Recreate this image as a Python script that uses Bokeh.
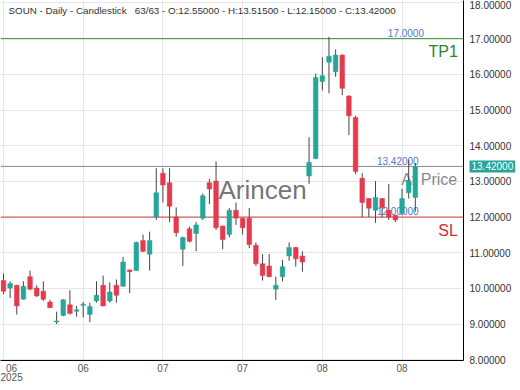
from bokeh.plotting import figure
from bokeh.models import FixedTicker, Span, Label, NumeralTickFormatter, ColumnDataSource
from bokeh.core.properties import value
from bokeh.embed import file_html
from bokeh.resources import INLINE

# ---- data ----
opens = [10.22, 10.01, 10.09, 9.70, 10.33, 10.01, 9.92, 9.62, 9.06, 9.24,
         9.54, 9.36, 9.52, 9.27, 9.65, 10.09, 9.65, 10.09, 10.06, 10.52,
         10.50, 11.34, 10.96, 12.00, 13.23, 12.96, 12.00, 11.10, 11.67, 11.54,
         11.97, 12.96, 13.01, 11.75, 11.51, 12.19, 11.97, 11.97, 11.21, 10.69,
         10.63, 9.98, 10.33, 10.91, 11.15, 10.91, 13.15, 13.64, 15.80, 16.34,
         16.07, 16.54, 15.39, 14.79, 13.09, 12.52, 12.19, 12.52, 12.19, 12.05,
         12.11, 12.68, 12.55]
highs = [10.42, 10.20, 10.10, 10.20, 10.50, 10.09, 10.20, 9.68, 9.35, 9.70,
         9.95, 9.51, 9.62, 9.60, 10.20, 10.36, 10.17, 10.25, 10.88, 10.53,
         11.31, 11.51, 11.59, 13.37, 13.37, 13.37, 12.27, 11.45, 11.73, 11.86,
         12.66, 13.07, 13.56, 11.76, 12.25, 12.41, 11.98, 12.25, 11.29, 10.96,
         10.96, 10.33, 10.80, 11.29, 11.16, 11.04, 14.24, 16.02, 16.48, 17.05,
         16.70, 16.56, 15.42, 14.84, 13.23, 12.53, 13.01, 12.53, 12.93, 12.06,
         12.79, 13.61, 13.515]
lows = [9.84, 9.73, 9.27, 9.69, 9.95, 9.76, 9.65, 9.45, 9.00, 9.22,
        9.27, 9.21, 9.19, 9.05, 9.60, 9.50, 9.60, 9.60, 10.05, 9.87,
        10.49, 11.02, 10.50, 11.92, 12.41, 11.86, 11.45, 10.63, 11.29, 11.04,
        11.92, 12.36, 11.64, 11.10, 11.43, 11.78, 11.51, 11.13, 10.63, 10.22,
        10.31, 9.68, 10.20, 10.77, 10.61, 10.47, 12.93, 13.62, 15.55, 15.47,
        15.93, 15.42, 14.30, 13.20, 12.00, 12.00, 11.84, 12.00, 11.92, 11.86,
        12.05, 12.52, 12.15]
closes = [9.92, 10.14, 9.51, 10.06, 9.98, 9.79, 9.70, 9.46, 9.09, 9.68,
          9.30, 9.40, 9.56, 9.49, 9.81, 9.51, 9.90, 9.81, 10.74, 10.47,
          11.29, 11.04, 11.34, 12.68, 12.90, 12.30, 11.56, 11.43, 11.32, 11.78,
          12.60, 12.79, 11.70, 11.37, 12.19, 11.97, 11.70, 11.23, 10.69, 10.36,
          10.33, 10.09, 10.61, 11.15, 10.83, 10.74, 13.53, 15.91, 15.96, 16.51,
          16.54, 15.61, 14.84, 13.28, 12.41, 12.25, 12.55, 12.27, 12.00, 11.92,
          12.52, 13.01, 13.42]

tick_positions = [0, 12, 24, 36, 48, 60]
tick_labels = ["06\n2025", "06", "07", "07", "08", "08"]
price_ticks = [8, 9, 10, 11, 12, 13, 14, 15, 16, 17, 18]

title_text = "SOUN - Daily - Candlestick \u00a0 63/63 - O:12.55000 - H:13.51500 - L:12.15000 - C:13.42000"
tp1_price = 17.0
at_price = 13.42
sl_price = 12.0
tp1_text = "17.0000"
at_text = "13.42000"
sl_text = "12.00000"

UP = "#26a69a"
DOWN = "#e5394d"
FONT = "Liberation Sans"

idx = list(range(len(opens)))
colors = [UP if c >= o else DOWN for o, c in zip(opens, closes)]
tops = [max(o, c) for o, c in zip(opens, closes)]
bottoms = [min(o, c) for o, c in zip(opens, closes)]
bottoms = [b if t - b > 0.03 else t - 0.03 for t, b in zip(tops, bottoms)]

src = ColumnDataSource(dict(x=idx, o=opens, h=highs, l=lows, c=closes,
                            top=tops, bottom=bottoms, color=colors))

X0, X1 = -0.45, 69.25
Y0, Y1 = 7.98, 18.07

p = figure(frame_width=463, frame_height=360,
           x_range=(X0, X1), y_range=(Y0, Y1),
           output_backend="svg", toolbar_location=None, title=None,
           y_axis_location="right",
           min_border_left=0, min_border_top=0, min_border_right=47, min_border_bottom=0,
           background_fill_color="white", border_fill_color="white",
           outline_line_color=None)

ya = p.yaxis[0]
ya.ticker = FixedTicker(ticks=price_ticks)
ya.formatter = NumeralTickFormatter(format="0.00000")
ya.major_label_text_font = FONT
ya.major_label_text_font_size = "10px"
ya.major_label_text_color = "#333333"
ya.axis_line_color = "black"
ya.major_tick_out = 0
ya.major_tick_in = 0
ya.minor_tick_out = 0
ya.minor_tick_in = 0
ya.major_label_standoff = 6

xa = p.xaxis[0]
xa.ticker = FixedTicker(ticks=tick_positions)
xa.major_label_overrides = {t: s for t, s in zip(tick_positions, tick_labels)}
xa.major_label_text_font = FONT
xa.major_label_text_font_size = "10px"
xa.major_label_text_color = "#555555"
xa.major_label_text_line_height = 0.9
xa.axis_line_color = "black"
xa.major_tick_out = 0
xa.major_tick_in = 0
xa.minor_tick_out = 0
xa.minor_tick_in = 0
xa.major_label_standoff = 2

p.xgrid.ticker = FixedTicker(ticks=tick_positions)
p.ygrid.ticker = FixedTicker(ticks=price_ticks)
p.xgrid.grid_line_color = "#e6e6e6"
p.ygrid.grid_line_color = "#e6e6e6"

for price, col in [(tp1_price, "#2e8b35"), (at_price, "#8a8a8a"), (sl_price, "#d23c3c")]:
    p.add_layout(Span(location=price, dimension="width", line_color=col,
                      line_width=1, level="underlay"))

p.text(x=[39.0], y=[12.75], text=["Arincen"], text_font=value(FONT),
       text_font_size=value("26px"), text_color="#5c5c5c", text_alpha=0.85,
       text_align="center", text_baseline="middle")
p.text(x=[63.3, 62.5, 62.5], y=[tp1_price + 0.05, at_price + 0.05, sl_price + 0.05],
       text=[tp1_text, at_text, sl_text], text_font=value(FONT),
       text_font_size=value("10px"), text_color="#5577d0",
       text_align="right", text_baseline="bottom")
p.text(x=[68.4], y=[tp1_price - 0.36], text=["TP1"], text_font=value(FONT),
       text_font_size=value("16px"), text_color="#23862b",
       text_align="right", text_baseline="middle")
p.text(x=[68.3], y=[at_price - 0.36], text=["At Price"], text_font=value(FONT),
       text_font_size=value("16px"), text_color="#8a8a8a",
       text_align="right", text_baseline="middle")
p.text(x=[68.4], y=[sl_price - 0.38], text=["SL"], text_font=value(FONT),
       text_font_size=value("16px"), text_color="#d6282f",
       text_align="right", text_baseline="middle")

p.segment(x0="x", y0="h", x1="x", y1="l", source=src, line_color="#444444", line_width=1)
p.vbar(x="x", width=0.7, top="top", bottom="bottom", source=src,
       fill_color="color", line_color="color", line_width=0.5)

p.add_layout(Label(x=0.75, y=17.79, text=title_text, text_font=FONT,
                   text_font_size="9.8px", text_color="#333333",
                   text_baseline="middle", text_align="left"))

# current price tag on the price axis, placed in the right side panel
p.add_layout(Label(x=-45, y=at_price, x_units="screen", y_units="data",
                   text=at_text, text_font=FONT,
                   text_font_size="10px", text_color="white",
                   text_baseline="middle", text_align="left",
                   background_fill_color=UP, background_fill_alpha=1.0, padding=2),
             "right")

open("out.html", "w").write(file_html(p, INLINE))
